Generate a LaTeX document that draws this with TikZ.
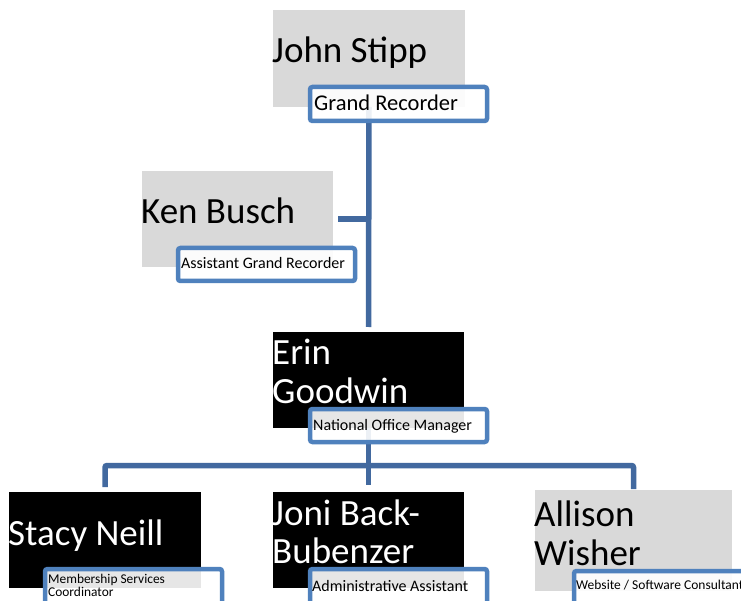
\documentclass[tikz,border=0pt]{standalone}
\usepackage{fontspec}
\setmainfont{Carlito}
\usetikzlibrary{calc}
\definecolor{namegray}{HTML}{D9D9D9}
\definecolor{labblue}{HTML}{4F81BD}
\definecolor{connblue}{HTML}{42699F}
\tikzset{
  namebox/.style={rectangle, draw=none, inner sep=0pt, outer sep=0pt, anchor=north west},
  graybox/.style={namebox, fill=namegray},
  blackbox/.style={namebox, fill=black},
  labbox/.style={rectangle, draw=labblue, line width=4.5pt, fill=white, fill opacity=0.9, draw opacity=1,
    rounded corners=2.5pt, inner sep=0pt, outer sep=0pt, anchor=north west},
  bigname/.style={inner sep=0pt, anchor=base west, font=\fontsize{37}{39}\selectfont},
  labtext/.style={inner sep=0pt, anchor=base west, font=\fontsize{16}{19}\selectfont},
  conn/.style={draw=connblue, line width=5.5pt}
}
\begin{document}
\begin{tikzpicture}[x=1pt,y=-1pt]
\clip (0,0) rectangle (741,601);
\fill[white] (0,0) rectangle (741,601);
% name boxes
\node[graybox, minimum width=192pt, minimum height=97pt] (john) at (273,10) {};
\node[graybox, minimum width=191pt, minimum height=96pt] (ken) at (142,171) {};
\node[blackbox, minimum width=191pt, minimum height=96pt] (erin) at (273,332) {};
\node[blackbox, minimum width=192pt, minimum height=96pt] (stacy) at (9,492) {};
\node[blackbox, minimum width=191pt, minimum height=96pt] (joni) at (273,492) {};
\node[graybox, minimum width=197pt, minimum height=101pt] (allison) at (535,490) {};
% connectors
\coordinate (bus) at (0,465.5);
\draw[conn] (john.south) -- ($(erin.north)+(0,-5)$);
\draw[conn] ($(ken.east)+(5,0)$) -- (ken.east -| john.south);
\draw[conn] (erin.south) -- ($(joni.north)+(0,-7)$);
\draw[conn, rounded corners=2pt] ($(stacy.north)+(0,-5)$) -- (stacy.north |- bus) -- (allison.north |- bus) -- ($(allison.north)+(0,-1)$);
% label boxes
\node[labbox, minimum width=177pt, minimum height=34pt] (grl) at (310,87) {};
\node[labbox, minimum width=177pt, minimum height=33pt] (agrl) at (178,248) {};
\node[labbox, minimum width=177pt, minimum height=33pt] (noml) at (310,409) {};
\node[labbox, minimum width=177pt, minimum height=40pt] (mscl) at (45,569) {};
\node[labbox, minimum width=177pt, minimum height=40pt] (aal) at (310,569) {};
\node[labbox, minimum width=190pt, minimum height=40pt] (wscl) at (574,571) {};
% names
\node[bigname] (johnt) at (272,63) {John Stipp};
\node[bigname] (kent) at (141,224) {Ken Busch};
\node[bigname, text=white] (erint1) at (272,364) {Erin};
\node[bigname, text=white] (erint2) at (272,403) {Goodwin};
\node[bigname, text=white] (stacyt) at (8,545) {Stacy Neill};
\node[bigname, text=white] (jonit1) at (272,525) {Joni Back-};
\node[bigname, text=white] (jonit2) at (272,563) {Bubenzer};
\node[bigname] (allisont1) at (534,526) {Allison};
\node[bigname] (allisont2) at (534,565) {Wisher};
% titles
\node[labtext, font=\fontsize{22.5}{26}\selectfont] (grt) at (314,111) {Grand Recorder};
\node[labtext] (agrt) at (181,269) {Assistant Grand Recorder};
\node[labtext] (nomt) at (313,430) {National Office Manager};
\node[labtext, font=\fontsize{13.4}{13}\selectfont] (msct1) at (48,583) {Membership Services};
\node[labtext, font=\fontsize{13.4}{13}\selectfont] (msct2) at (48,596) {Coordinator};
\node[labtext] (aat) at (312,591) {Administrative Assistant};
\node[labtext, font=\fontsize{13.5}{16}\selectfont] (wsct) at (576,589) {Website / Software Consultant};
\end{tikzpicture}
\end{document}
